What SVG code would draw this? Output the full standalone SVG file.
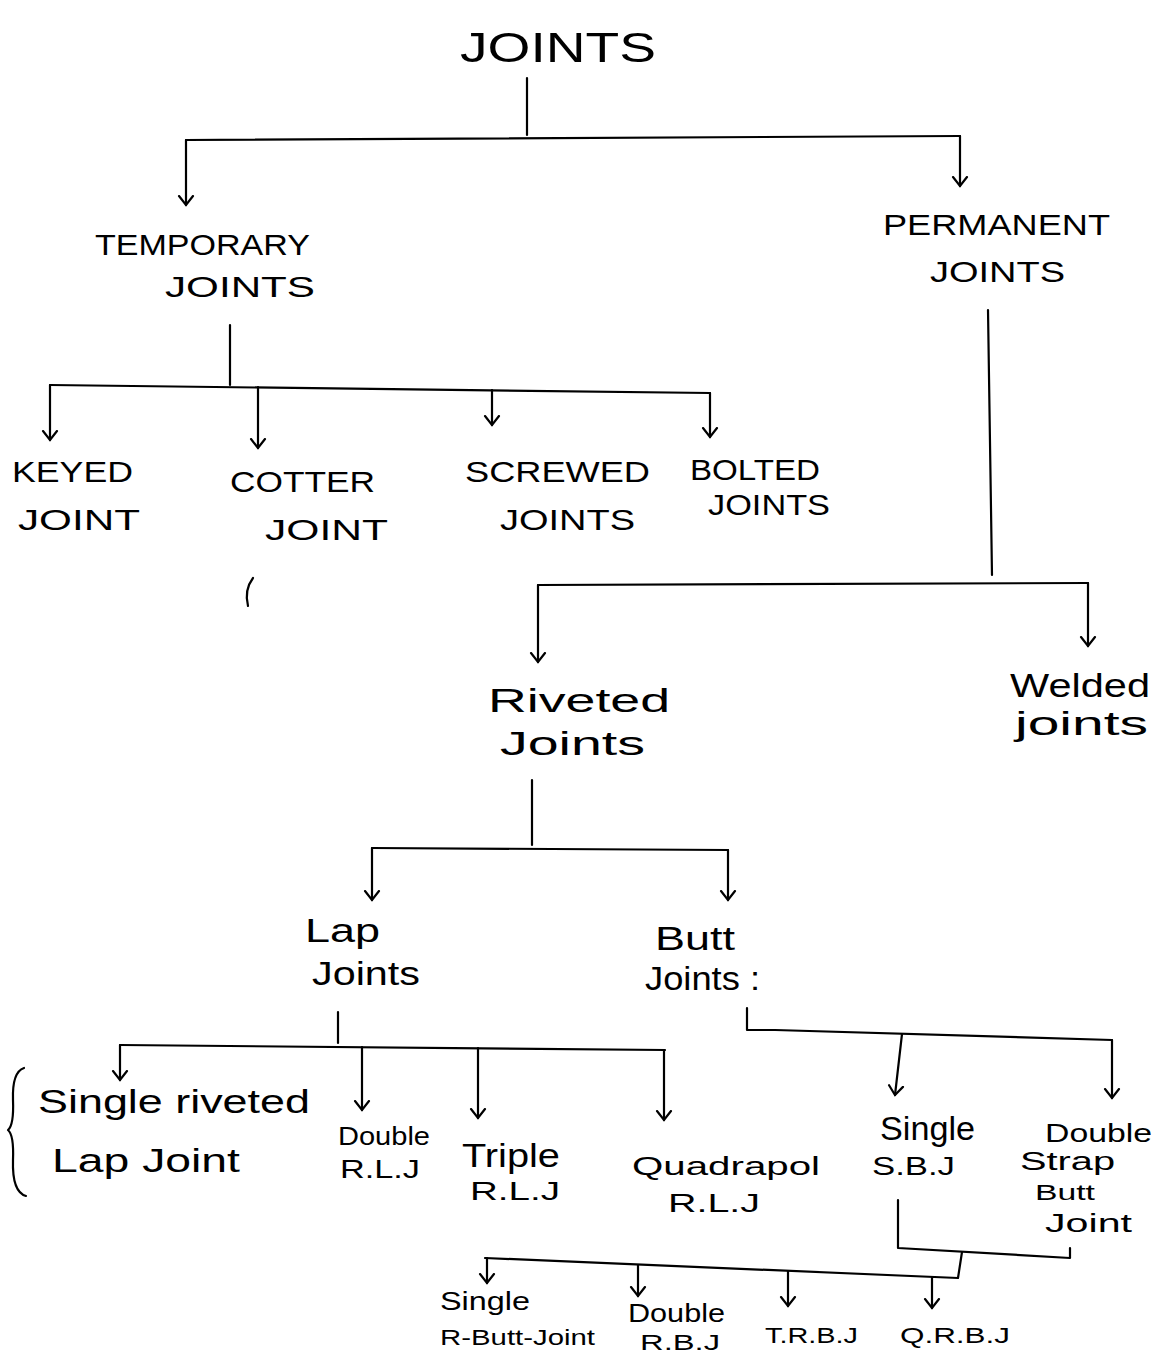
<svg xmlns="http://www.w3.org/2000/svg" width="1157" height="1358" viewBox="0 0 1157 1358">
<style>
text{font-family:"Liberation Sans","DejaVu Sans",sans-serif;fill:#000;}
.cap{font-size:30px;}
.big{font-size:42px;}
.mid{font-size:34px;}
.sm{font-size:26px;}
.xs{font-size:22px;}
.ln{fill:none;stroke:#000;stroke-width:2.2;stroke-linecap:round;stroke-linejoin:round;}
.arr{fill:none;stroke:#000;stroke-width:2.2;stroke-linecap:round;marker-end:url(#ah);}
.dot{fill:none;stroke:#555;stroke-width:1.2;stroke-dasharray:2 6;}
</style>
<defs>
<marker id="ah" viewBox="-10 -10 20 20" markerWidth="20" markerHeight="20" refX="0" refY="0" orient="auto" markerUnits="userSpaceOnUse">
<path d="M-9,-7 L0,0 L-9,7" fill="none" stroke="#000" stroke-width="2.2" stroke-linecap="round"/>
</marker>
</defs>
<rect width="1157" height="1358" fill="#fff"/>

<g id="connectors">
<path class="ln" d="M527,78 L527,135"/>
<path class="ln" d="M186,140 L960,136"/>
<path class="arr" d="M186,140 L186,205"/>
<path class="arr" d="M960,136 L960,186"/>
<path class="ln" d="M230,325 L230,385"/>
<path class="ln" d="M50,385 L710,393"/>
<path class="arr" d="M50,385 L50,440"/>
<path class="arr" d="M258,387 L258,448"/>
<path class="arr" d="M492,390 L492,425"/>
<path class="arr" d="M710,393 L710,437"/>
<path class="ln" d="M988,310 L992,575"/>
<path class="ln" d="M538,585 L1088,583"/>
<path class="arr" d="M538,585 L538,662"/>
<path class="arr" d="M1088,583 L1088,646"/>
<path class="ln" d="M532,780 L532,845"/>
<path class="ln" d="M372,848 L728,850"/>
<path class="arr" d="M372,848 L372,900"/>
<path class="arr" d="M728,850 L728,900"/>
<path class="ln" d="M338,1012 L338,1043"/>
<path class="ln" d="M120,1045 L665,1050"/>
<path class="arr" d="M120,1045 L120,1080"/>
<path class="arr" d="M362,1047 L362,1110"/>
<path class="arr" d="M478,1048 L478,1118"/>
<path class="arr" d="M664,1050 L664,1120"/>
<path class="ln" d="M747,1008 L747,1030 L775,1030 M775,1030 L1112,1040"/>
<path class="arr" d="M902,1034 L895,1095"/>
<path class="arr" d="M1112,1040 L1112,1098"/>
<path class="ln" d="M898,1200 L898,1248 L1070,1258 L1070,1248"/>
<path class="ln" d="M962,1252 L958,1278 L485,1258"/>
<path class="arr" d="M487,1258 L487,1283"/>
<path class="arr" d="M638,1265 L638,1296"/>
<path class="arr" d="M788,1271 L788,1306"/>
<path class="arr" d="M932,1277 L932,1308"/>
<path class="ln" d="M24,1068 Q12,1072 13,1100 Q14,1125 8,1130 Q14,1135 13,1160 Q12,1192 26,1196"/>
<path class="ln" d="M253,578 Q244,590 248,606"/>
</g>

<g id="joints"><text class="big" x="460" y="62" textLength="196" lengthAdjust="spacingAndGlyphs">JOINTS</text></g>
<g id="temporary"><text class="cap" x="95" y="255" textLength="215" lengthAdjust="spacingAndGlyphs">TEMPORARY</text><text class="cap" x="165" y="297" textLength="150" lengthAdjust="spacingAndGlyphs">JOINTS</text></g>
<g id="permanent"><text class="cap" x="883" y="235" textLength="227" lengthAdjust="spacingAndGlyphs">PERMANENT</text><text class="cap" x="930" y="282" textLength="135" lengthAdjust="spacingAndGlyphs">JOINTS</text></g>
<g id="keyed"><text class="cap" x="12" y="482" textLength="121" lengthAdjust="spacingAndGlyphs">KEYED</text><text class="cap" x="18" y="530" textLength="122" lengthAdjust="spacingAndGlyphs">JOINT</text></g>
<g id="cotter"><text class="cap" x="230" y="492" textLength="145" lengthAdjust="spacingAndGlyphs">COTTER</text><text class="cap" x="265" y="540" textLength="123" lengthAdjust="spacingAndGlyphs">JOINT</text></g>
<g id="screwed"><text class="cap" x="465" y="482" textLength="185" lengthAdjust="spacingAndGlyphs">SCREWED</text><text class="cap" x="500" y="530" textLength="135" lengthAdjust="spacingAndGlyphs">JOINTS</text></g>
<g id="bolted"><text class="cap" x="690" y="480" textLength="130" lengthAdjust="spacingAndGlyphs">BOLTED</text><text class="cap" x="708" y="515" textLength="122" lengthAdjust="spacingAndGlyphs">JOINTS</text></g>
<g id="riveted"><text class="mid" x="488" y="712" textLength="182" lengthAdjust="spacingAndGlyphs">Riveted</text><text class="mid" x="500" y="755" textLength="145" lengthAdjust="spacingAndGlyphs">Joints</text></g>
<g id="welded"><text class="mid" x="1010" y="697" textLength="140" lengthAdjust="spacingAndGlyphs">Welded</text><text class="mid" x="1015" y="735" textLength="133" lengthAdjust="spacingAndGlyphs">joints</text></g>
<g id="lap"><text class="mid" x="305" y="942" textLength="75" lengthAdjust="spacingAndGlyphs">Lap</text><text class="mid" x="312" y="985" textLength="108" lengthAdjust="spacingAndGlyphs">Joints</text></g>
<g id="butt"><text class="mid" x="655" y="950" textLength="80" lengthAdjust="spacingAndGlyphs">Butt</text><text class="mid" x="645" y="990" textLength="115" lengthAdjust="spacingAndGlyphs">Joints :</text></g>
<g id="single-rlj"><text class="mid" x="38" y="1113" textLength="272" lengthAdjust="spacingAndGlyphs">Single riveted</text><text class="mid" x="52" y="1172" textLength="188" lengthAdjust="spacingAndGlyphs">Lap Joint</text></g>
<g id="double-rlj"><text class="sm" x="338" y="1145" textLength="92" lengthAdjust="spacingAndGlyphs">Double</text><text class="sm" x="340" y="1178" textLength="80" lengthAdjust="spacingAndGlyphs">R.L.J</text></g>
<g id="triple-rlj"><text class="mid" x="462" y="1167" textLength="98" lengthAdjust="spacingAndGlyphs">Triple</text><text class="sm" x="470" y="1200" textLength="90" lengthAdjust="spacingAndGlyphs">R.L.J</text></g>
<g id="quad-rlj"><text class="sm" x="632" y="1175" textLength="188" lengthAdjust="spacingAndGlyphs">Quadrapol</text><text class="sm" x="668" y="1212" textLength="92" lengthAdjust="spacingAndGlyphs">R.L.J</text></g>
<g id="single-sbj"><text class="mid" x="880" y="1140" textLength="95" lengthAdjust="spacingAndGlyphs">Single</text><text class="sm" x="872" y="1175" textLength="83" lengthAdjust="spacingAndGlyphs">S.B.J</text></g>
<g id="double-sbj"><text class="sm" x="1045" y="1142" textLength="107" lengthAdjust="spacingAndGlyphs">Double</text><text class="sm" x="1020" y="1170" textLength="95" lengthAdjust="spacingAndGlyphs">Strap</text><text class="xs" x="1035" y="1200" textLength="60" lengthAdjust="spacingAndGlyphs">Butt</text><text class="sm" x="1045" y="1232" textLength="87" lengthAdjust="spacingAndGlyphs">Joint</text></g>
<g id="single-rbj"><text class="sm" x="440" y="1310" textLength="90" lengthAdjust="spacingAndGlyphs">Single</text><text class="xs" x="440" y="1345" textLength="155" lengthAdjust="spacingAndGlyphs">R-Butt-Joint</text></g>
<g id="double-rbj"><text class="sm" x="628" y="1322" textLength="97" lengthAdjust="spacingAndGlyphs">Double</text><text class="xs" x="640" y="1350" textLength="80" lengthAdjust="spacingAndGlyphs">R.B.J</text></g>
<g id="trbj"><text class="xs" x="765" y="1343" textLength="93" lengthAdjust="spacingAndGlyphs">T.R.B.J</text></g>
<g id="qrbj"><text class="xs" x="900" y="1343" textLength="110" lengthAdjust="spacingAndGlyphs">Q.R.B.J</text></g>
</svg>
